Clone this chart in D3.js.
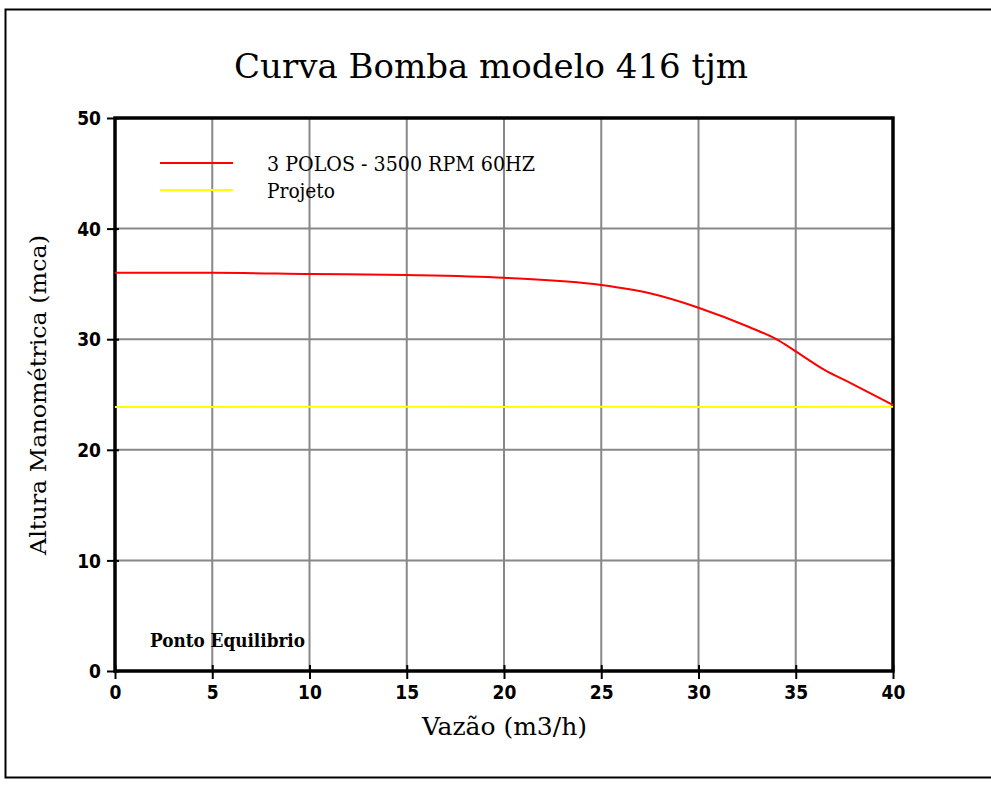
<!DOCTYPE html>
<html>
<head>
<meta charset="utf-8">
<script src="https://cdn.jsdelivr.net/npm/d3@7"></script>
<style>
  body { margin: 0; background: #fff; }
  .tick text { font-family: "DejaVu Sans Condensed", sans-serif; font-weight: bold; font-size: 19px; }
</style>
</head>
<body>
<div id="chart"></div>
<script>
var title = 'Curva Bomba modelo 416 tjm';
var xLabel = 'Vazão (m3/h)';
var yLabel = 'Altura Manométrica (mca)';

var xTicks = [0, 5, 10, 15, 20, 25, 30, 35, 40];
var yTicks = [0, 10, 20, 30, 40, 50];

// curva da bomba
var pumpFlow = [0, 5, 10, 15, 20, 25, 27.5, 30, 32.6, 34, 35, 36.5, 37.8, 40];
var pumpHead = [36.0, 36.0, 35.9, 35.8, 35.55, 34.9, 34.15, 32.85, 31.1, 30.0, 28.9, 27.2, 26.05, 24.05];

// linha de projeto
var projFlow = [0, 5, 10, 15, 20, 25, 30, 35, 40];
var projHead = [23.88, 23.88, 23.9, 23.9, 23.88, 23.9, 23.88, 23.88, 23.9];

var legendNames = ['3 POLOS - 3500 RPM 60HZ', 'Projeto'];
var legendColors = ['#ff0000', '#ffff00'];

var serif = '"DejaVu Serif Condensed", "DejaVu Serif", serif';

var margin = { top: 118, right: 98, bottom: 127, left: 115 };
var width = 991 - margin.left - margin.right;
var height = 798 - margin.top - margin.bottom;

var root = d3.select('#chart').append('svg')
  .attr('width', 991)
  .attr('height', 798);

// moldura externa
root.append('rect')
  .attr('x', 5.5).attr('y', 9.5)
  .attr('width', 1000).attr('height', 768)
  .attr('fill', 'none').attr('stroke', '#000').attr('stroke-width', 2);

root.append('text')
  .attr('x', 234).attr('y', 78)
  .attr('textLength', 514).attr('lengthAdjust', 'spacingAndGlyphs')
  .style('font-family', serif)
  .style('font-size', '34px')
  .text(title);

var svg = root.append('g')
  .attr('transform', 'translate(' + margin.left + ',' + margin.top + ')');

var x = d3.scaleLinear().domain([0, 40]).range([0, width]);
var y = d3.scaleLinear().domain([0, 50]).range([height, 0]);

// grade
svg.append('g').selectAll('line')
  .data(xTicks.slice(1, -1))
  .enter().append('line')
  .attr('x1', function(d) { return x(d); }).attr('x2', function(d) { return x(d); })
  .attr('y1', 0).attr('y2', height)
  .attr('stroke', '#888').attr('stroke-width', 2);

svg.append('g').selectAll('line')
  .data(yTicks.slice(1, -1))
  .enter().append('line')
  .attr('x1', 0).attr('x2', width)
  .attr('y1', function(d) { return y(d); }).attr('y2', function(d) { return y(d); })
  .attr('stroke', '#888').attr('stroke-width', 2);

var xAxis = svg.append('g')
  .attr('transform', 'translate(0,' + height + ')')
  .call(d3.axisBottom(x).tickValues(xTicks).tickSize(8).tickPadding(7));
xAxis.select('.domain').remove();
xAxis.selectAll('.tick line').attr('stroke-width', 2).attr('y1', -6);
xAxis.selectAll('.tick text').attr('fill', '#000');

var yAxis = svg.append('g')
  .call(d3.axisLeft(y).tickValues(yTicks).tickSize(8).tickPadding(6));
yAxis.select('.domain').remove();
yAxis.selectAll('.tick line').attr('stroke-width', 2).attr('x1', -8).attr('x2', 4);
yAxis.selectAll('.tick text').attr('fill', '#000').attr('dy', '0.35em');

// borda do gráfico
svg.append('rect')
  .attr('x', 0).attr('y', 0)
  .attr('width', width).attr('height', height)
  .attr('fill', 'none').attr('stroke', '#000').attr('stroke-width', 3.5);

var line = d3.line()
  .x(function(d) { return x(d[0]); })
  .y(function(d) { return y(d[1]); })
  .curve(d3.curveMonotoneX);

svg.append('path')
  .datum(d3.zip(projFlow, projHead))
  .attr('d', line)
  .attr('fill', 'none').attr('stroke', '#ffff00').attr('stroke-width', 2);

svg.append('path')
  .datum(d3.zip(pumpFlow, pumpHead))
  .attr('d', line)
  .attr('fill', 'none').attr('stroke', '#ff0000').attr('stroke-width', 2);

// legenda
var legendWidths = [268, 68];
var legend = svg.selectAll('.legend')
  .data(legendNames)
  .enter().append('g')
  .attr('class', 'legend')
  .attr('transform', function(d, i) { return 'translate(45,' + (45 + i * 27) + ')'; });

legend.append('line')
  .attr('x1', 0).attr('x2', 73)
  .attr('stroke', function(d, i) { return legendColors[i]; })
  .attr('stroke-width', 2);

legend.append('text')
  .attr('x', 107).attr('y', 8)
  .attr('textLength', function(d, i) { return legendWidths[i]; })
  .attr('lengthAdjust', 'spacingAndGlyphs')
  .style('font-family', serif)
  .style('font-size', '20px')
  .text(function(d) { return d; });

svg.append('text')
  .attr('x', 35).attr('y', 529)
  .attr('textLength', 155).attr('lengthAdjust', 'spacingAndGlyphs')
  .style('font-family', serif)
  .style('font-weight', 'bold')
  .style('font-size', '19px')
  .text('Ponto Equilibrio');

root.append('text')
  .attr('x', 422).attr('y', 735)
  .attr('textLength', 165).attr('lengthAdjust', 'spacingAndGlyphs')
  .style('font-family', serif)
  .style('font-size', '24px')
  .text(xLabel);

root.append('text')
  .attr('transform', 'translate(46,555) rotate(-90)')
  .attr('textLength', 320).attr('lengthAdjust', 'spacingAndGlyphs')
  .style('font-family', serif)
  .style('font-size', '23px')
  .text(yLabel);
</script>
</body>
</html>
